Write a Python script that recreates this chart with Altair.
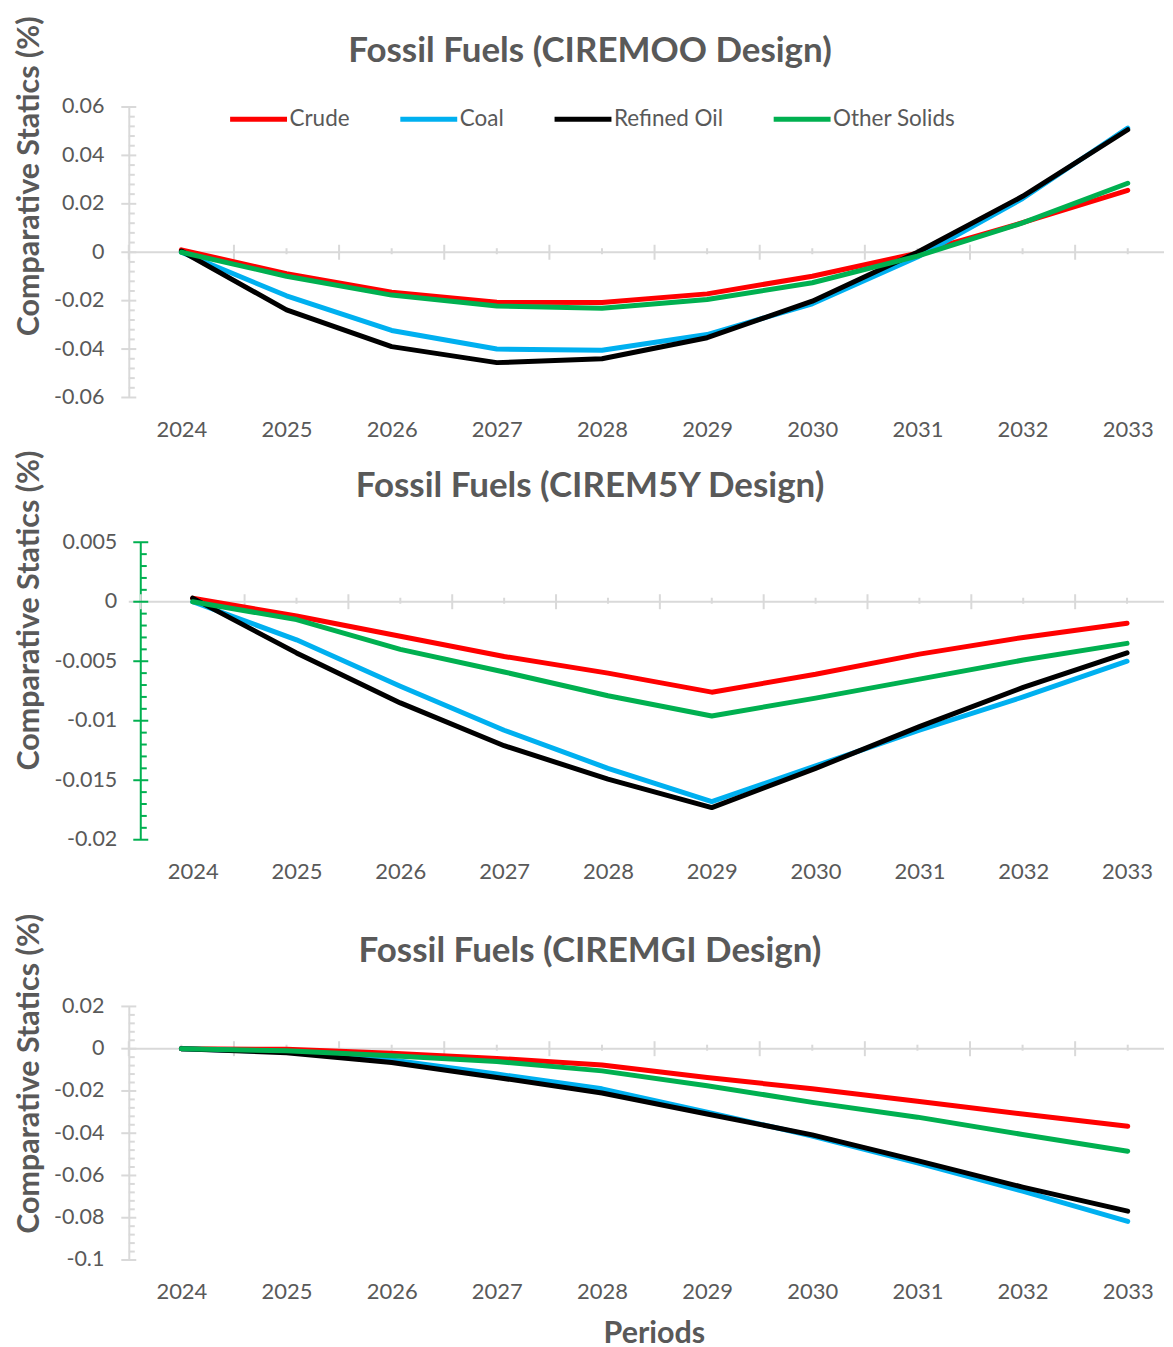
import altair as alt
import pandas as pd

years = list(range(2024, 2034))
series = ["Crude", "Coal", "Refined Oil", "Other Solids"]
colors = ["#FF0000", "#00B0F0", "#000000", "#00B050"]

titles = ["Fossil Fuels (CIREMOO Design)", "Fossil Fuels (CIREM5Y Design)", "Fossil Fuels (CIREMGI Design)"]

# Panel 1: CIREMOO
moo_crude = [0.0010, -0.0089, -0.0165, -0.0207, -0.0208, -0.0172, -0.0099, -0.0004, 0.0122, 0.0256]
moo_coal = [0.0000, -0.0180, -0.0323, -0.0400, -0.0405, -0.0340, -0.0213, -0.0020, 0.0222, 0.0513]
moo_refined = [0.0005, -0.0238, -0.0390, -0.0456, -0.0440, -0.0353, -0.0202, 0.0000, 0.0231, 0.0506]
moo_other = [0.0000, -0.0099, -0.0177, -0.0222, -0.0231, -0.0195, -0.0126, -0.0016, 0.0121, 0.0285]

# Panel 2: CIREM5Y
m5y_crude = [0.0003, -0.0012, -0.0029, -0.0046, -0.0060, -0.0076, -0.0061, -0.0044, -0.0030, -0.0018]
m5y_coal = [0.0000, -0.0032, -0.0071, -0.0108, -0.0140, -0.0168, -0.0138, -0.0108, -0.0080, -0.0050]
m5y_refined = [0.0003, -0.0043, -0.0085, -0.0121, -0.0149, -0.0173, -0.0140, -0.0105, -0.0072, -0.0043]
m5y_other = [0.0000, -0.0015, -0.0040, -0.0059, -0.0079, -0.0096, -0.0081, -0.0065, -0.0049, -0.0035]

# Panel 3: CIREMGI
mgi_crude = [0.0000, -0.0003, -0.0022, -0.0046, -0.0077, -0.0136, -0.0190, -0.0249, -0.0309, -0.0367]
mgi_coal = [0.0000, -0.0015, -0.0053, -0.0120, -0.0190, -0.0300, -0.0413, -0.0540, -0.0674, -0.0817]
mgi_refined = [0.0000, -0.0019, -0.0065, -0.0136, -0.0210, -0.0309, -0.0408, -0.0530, -0.0655, -0.0769]
mgi_other = [0.0000, -0.0010, -0.0033, -0.0061, -0.0105, -0.0175, -0.0254, -0.0324, -0.0406, -0.0485]

y1_ticks = [-0.06, -0.04, -0.02, 0, 0.02, 0.04, 0.06]
y2_ticks = [-0.02, -0.015, -0.01, -0.005, 0, 0.005]
y3_ticks = [-0.1, -0.08, -0.06, -0.04, -0.02, 0, 0.02]

FONT = "Lato"
TXT = "#595959"
GRAY = "#d9d9d9"
GREEN = "#00B050"


def make_df(vals):
    rows = []
    for s, v in zip(series, vals):
        for yr, val in zip(years, v):
            rows.append({"year": yr, "series": s, "value": val})
    return pd.DataFrame(rows)


def panel(vals, title, yticks, minor_step, width, height, x_min, x_max, axis_color,
          own_domain, label_pad, ytitle_y, legend, x_title, x_title_pad, x_title_size):
    df = make_df(vals)
    ymin, ymax = min(yticks), max(yticks)
    xs = alt.Scale(domain=[x_min, x_max], nice=False, zero=False)
    ys = alt.Scale(domain=[ymin, ymax], nice=False, zero=False)
    x_kw = dict(values=years, format="d", domain=False, ticks=False, tickSize=0, grid=False,
                labelFont=FONT, labelFontSize=22, labelColor=TXT, labelPadding=22,
                title=x_title, titleFont=FONT, titleFontSize=x_title_size,
                titleFontWeight="bold", titleColor=TXT, titlePadding=x_title_pad)
    if x_title == "Periods":
        x_kw.update(titleX=526, titleY=74, titleBaseline="middle")
    xaxis = alt.Axis(**x_kw)
    yaxis = alt.Axis(values=yticks, labelExpr="toString(datum.value)", domain=own_domain,
                     domainColor=axis_color, domainWidth=2, ticks=False, tickSize=0, grid=False,
                     labelFont=FONT, labelFontSize=21.5, labelColor=TXT, labelPadding=label_pad,
                     title="Comparative Statics (%)", titleFont=FONT, titleFontSize=30.5,
                     titleFontWeight="bold", titleColor=TXT, titleX=-99, titleY=ytitle_y,
                     titleBaseline="middle")
    X = lambda: alt.X("year:Q", scale=xs, axis=xaxis)
    Y = lambda: alt.Y("value:Q", scale=ys, axis=yaxis)

    layers = []
    zero_df = pd.DataFrame({"value": [0]})
    layers.append(alt.Chart(zero_df).mark_rule(color=GRAY, strokeWidth=2).encode(y=Y()))

    if not own_domain:
        ax_df = pd.DataFrame({"year": [2023.5]})
        layers.append(alt.Chart(ax_df).mark_rule(color=axis_color, strokeWidth=2).encode(x=X()))

    bounds = [2023.5 + i for i in range(10)]
    big_df = pd.DataFrame({"year": bounds, "value": [0] * len(bounds)})
    layers.append(alt.Chart(big_df).mark_tick(orient="vertical", size=15, thickness=2, color=GRAY,
                                              opacity=1).encode(x=X(), y=Y()))
    small_df = pd.DataFrame({"year": years, "value": [0] * len(years)})
    layers.append(alt.Chart(small_df).mark_tick(orient="vertical", size=6, thickness=2, color=GRAY,
                                                opacity=1, yOffset=-1).encode(x=X(), y=Y()))

    n = int(round((ymax - ymin) / minor_step))
    minor_vals = [round(ymin + i * minor_step, 6) for i in range(n + 1)]
    minor_vals = [v for v in minor_vals if all(abs(v - t) > 1e-9 for t in yticks)]
    ymin_df = pd.DataFrame({"year": [2023.5] * len(minor_vals), "value": minor_vals})
    layers.append(alt.Chart(ymin_df).mark_tick(orient="horizontal", size=6, thickness=2,
                                               color=axis_color, opacity=1, xOffset=3).encode(x=X(), y=Y()))
    ymaj_df = pd.DataFrame({"year": [2023.5] * len(yticks), "value": yticks})
    layers.append(alt.Chart(ymaj_df).mark_tick(orient="horizontal", size=15, thickness=2,
                                               color=axis_color, opacity=1).encode(x=X(), y=Y()))

    if legend:
        leg = alt.Legend(title=None, orient="none", legendX=99, legendY=-19, direction="horizontal",
                         columns=4, columnPadding=39.5, symbolType="stroke", symbolSize=3249,
                         symbolStrokeWidth=5, labelOffset=0, labelFont=FONT, labelFontSize=22.5,
                         labelColor=TXT, padding=0, symbolOpacity=1)
    else:
        leg = None
    layers.append(alt.Chart(df).mark_line(strokeWidth=5, strokeCap="round", strokeJoin="round").encode(
        x=X(), y=Y(),
        color=alt.Color("series:N", scale=alt.Scale(domain=series, range=colors), legend=leg),
    ))

    title_df = pd.DataFrame({"title": [title]})
    layers.append(alt.Chart(title_df).mark_text(font=FONT, fontSize=35, fontWeight="bold", color=TXT,
                                                align="center", baseline="middle").encode(
        text="title:N", x=alt.value(462), y=alt.value(-56)))

    return alt.layer(*layers).properties(width=width, height=height)


# all plot areas start at the same left edge; panel 2's x-domain starts earlier so that
# its (green) vertical axis sits further right, as in the original Excel layout
p1 = panel([moo_crude, moo_coal, moo_refined, moo_other], titles[0], y1_ticks, 0.004,
           1037, 291, 2023.5, 2033.345, GRAY, True, 25, 69, True, None, 0, 10)
p2 = panel([m5y_crude, m5y_coal, m5y_refined, m5y_other], titles[1], y2_ticks, 0.001,
           1037, 298, 2023.3846, 2033.356, GREEN, False, 12, 68, False, " ", 19, 2)
p3 = panel([mgi_crude, mgi_coal, mgi_refined, mgi_other], titles[2], y3_ticks, 0.004,
           1037, 254, 2023.5, 2033.345, GRAY, True, 25, 67, False, "Periods", 20, 30.5)

chart = alt.vconcat(p1, p2, p3, spacing=9).resolve_scale(
    x="independent", y="independent", color="independent"
).properties(
    padding={"left": 6, "top": 6, "right": 0, "bottom": 0},
    background="white",
).configure_view(strokeWidth=0)

chart.save("out.html", embed_options={"renderer": "svg", "actions": False})
